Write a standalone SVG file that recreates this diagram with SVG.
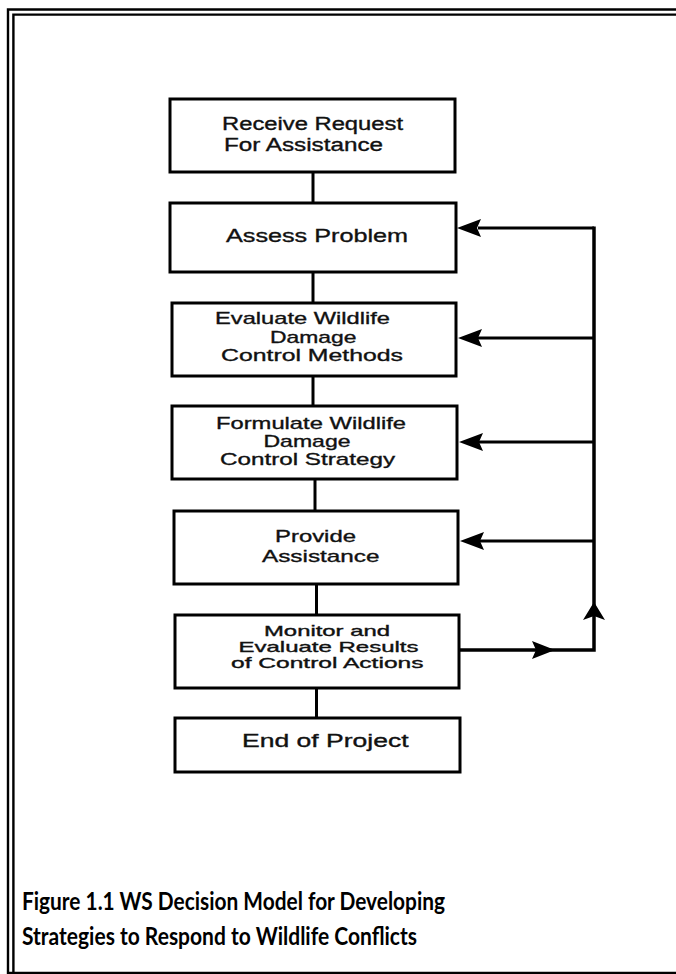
<svg xmlns="http://www.w3.org/2000/svg" width="676" height="974" viewBox="0 0 676 974">
<style>
.box{fill:#fff;stroke:#000;stroke-width:3}
.ln{fill:none;stroke:#000;stroke-width:3}
.fb{fill:none;stroke:#000;stroke-width:3.5}
.bd{fill:none;stroke:#000;stroke-width:2.4}
.t{font-family:"Liberation Sans",Arial,sans-serif;fill:#111;stroke:#111;stroke-width:0.35}
.cap{font-family:Lato,"Open Sans",sans-serif;font-weight:700;font-size:25px;fill:#000}
.ah{fill:#000}
</style>
<rect width="676" height="974" fill="#fff"/>
<g id="border">
<path class="bd" d="M8,974 V9.5 H676"/>
<path class="bd" d="M13.4,974 V14.6 H676"/>
<path class="bd" d="M8,973 H676"/>
</g>
<g id="connectors">
<line class="ln" x1="313" y1="172" x2="313" y2="203"/>
<line class="ln" x1="313" y1="272" x2="313" y2="303"/>
<line class="ln" x1="313" y1="376" x2="313" y2="406"/>
<line class="ln" x1="315" y1="479" x2="315" y2="511"/>
<line class="ln" x1="316.5" y1="584" x2="316.5" y2="615"/>
<line class="ln" x1="316.5" y1="688" x2="316.5" y2="718"/>
<path class="ln" d="M478,228 H594"/>
<line class="ln" x1="478" y1="338" x2="594" y2="338"/>
<line class="ln" x1="478" y1="442" x2="594" y2="442"/>
<line class="ln" x1="480" y1="541" x2="594" y2="541"/>
<path class="fb" d="M594,226.5 V650 H459"/>
<polygon class="ah" points="457,228 481,219 477,228 481,237"/>
<polygon class="ah" points="458,338 482,329 478,338 482,347"/>
<polygon class="ah" points="459,442 483,433 479,442 483,451"/>
<polygon class="ah" points="460,541 484,532 480,541 484,550"/>
<polygon class="ah" points="594,602 605,620 594,616 583,620"/>
<polygon class="ah" points="555,650 532,641 536,650 532,659"/>
</g>
<g id="n1">
<rect class="box" x="170" y="99" width="285" height="73"/>
<text class="t" font-size="18" x="222" y="129.5" textLength="181" lengthAdjust="spacingAndGlyphs">Receive Request</text>
<text class="t" font-size="18" x="224" y="151" textLength="159" lengthAdjust="spacingAndGlyphs">For Assistance</text>
</g>
<g id="n2">
<rect class="box" x="170" y="203" width="286" height="69"/>
<text class="t" font-size="19" x="226" y="242" textLength="182" lengthAdjust="spacingAndGlyphs">Assess  Problem</text>
</g>
<g id="n3">
<rect class="box" x="172" y="303" width="284" height="73"/>
<text class="t" font-size="17" x="215" y="323.5" textLength="175" lengthAdjust="spacingAndGlyphs">Evaluate Wildlife</text>
<text class="t" font-size="17" x="270" y="343" textLength="86.5" lengthAdjust="spacingAndGlyphs">Damage</text>
<text class="t" font-size="17" x="221" y="361" textLength="182" lengthAdjust="spacingAndGlyphs">Control  Methods</text>
</g>
<g id="n4">
<rect class="box" x="172" y="406" width="285" height="73"/>
<text class="t" font-size="17" x="216" y="428.5" textLength="190" lengthAdjust="spacingAndGlyphs">Formulate Wildlife</text>
<text class="t" font-size="17" x="263.5" y="446.5" textLength="87" lengthAdjust="spacingAndGlyphs">Damage</text>
<text class="t" font-size="17" x="220" y="465" textLength="175" lengthAdjust="spacingAndGlyphs">Control Strategy</text>
</g>
<g id="n5">
<rect class="box" x="174" y="511" width="284" height="73"/>
<text class="t" font-size="17" x="275" y="541.5" textLength="81" lengthAdjust="spacingAndGlyphs">Provide</text>
<text class="t" font-size="17" x="262" y="561.5" textLength="117.5" lengthAdjust="spacingAndGlyphs">Assistance</text>
</g>
<g id="n6">
<rect class="box" x="175" y="615" width="284" height="73"/>
<text class="t" font-size="14.5" x="264" y="635.5" textLength="126" lengthAdjust="spacingAndGlyphs">Monitor and</text>
<text class="t" font-size="14.5" x="238.5" y="651.5" textLength="180" lengthAdjust="spacingAndGlyphs">Evaluate Results</text>
<text class="t" font-size="14.5" x="231" y="667.5" textLength="192.5" lengthAdjust="spacingAndGlyphs">of Control Actions</text>
</g>
<g id="n7">
<rect class="box" x="175" y="718" width="285" height="54"/>
<text class="t" font-size="18" x="242" y="746.5" textLength="166.5" lengthAdjust="spacingAndGlyphs">End  of  Project</text>
</g>
<g id="caption">
<text class="cap" x="22" y="910" textLength="423" lengthAdjust="spacingAndGlyphs">Figure 1.1 WS Decision Model for Developing</text>
<text class="cap" x="22" y="945" textLength="395" lengthAdjust="spacingAndGlyphs">Strategies to Respond to Wildlife Conflicts</text>
</g>
</svg>
